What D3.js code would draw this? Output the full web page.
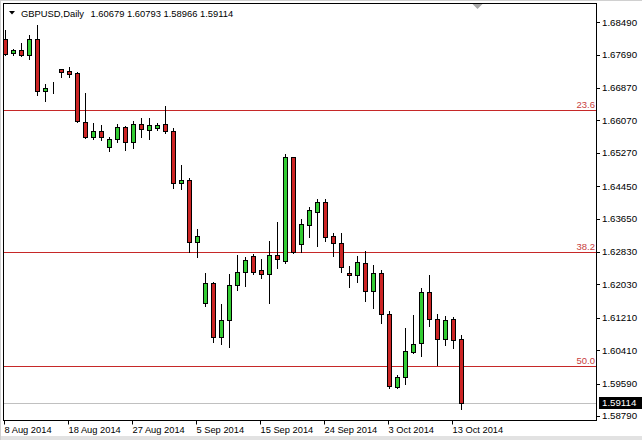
<!DOCTYPE html>
<html>
<head>
<meta charset="utf-8">
<script src="https://cdn.jsdelivr.net/npm/d3@7"></script>
<style>
  html, body { margin: 0; padding: 0; background: #ffffff; }
  svg { display: block; }
  text { font-family: "Liberation Sans", Arial, sans-serif; }
</style>
</head>
<body>
<svg id="chart" width="642" height="440"></svg>
<script>
// ---------------- data ----------------
const symbol = "GBPUSD,Daily";
const dates = [
  "2014-08-08","2014-08-10","2014-08-11","2014-08-12","2014-08-13","2014-08-14","2014-08-15",
  "2014-08-17","2014-08-18","2014-08-19","2014-08-20","2014-08-21","2014-08-22",
  "2014-08-24","2014-08-25","2014-08-26","2014-08-27","2014-08-28","2014-08-29",
  "2014-08-31","2014-09-01","2014-09-02","2014-09-03","2014-09-04","2014-09-05",
  "2014-09-07","2014-09-08","2014-09-09","2014-09-10","2014-09-11","2014-09-12",
  "2014-09-14","2014-09-15","2014-09-16","2014-09-17","2014-09-18","2014-09-19",
  "2014-09-21","2014-09-22","2014-09-23","2014-09-24","2014-09-25","2014-09-26",
  "2014-09-28","2014-09-29","2014-09-30","2014-10-01","2014-10-02","2014-10-03",
  "2014-10-05","2014-10-06","2014-10-07","2014-10-08","2014-10-09","2014-10-10",
  "2014-10-12","2014-10-13","2014-10-14"
];
const open = [
  1.68076,1.67731,1.67805,1.67681,1.68076,1.66795,1.66869,
  1.67337,1.67287,1.67238,1.66031,1.65662,1.65810,
  1.65415,1.65613,1.65908,1.65539,1.65982,1.65834,
  1.65883,1.65982,1.65810,1.64529,1.64603,1.63076,
  1.61573,1.62066,1.60736,1.61154,1.62017,1.62337,
  1.62731,1.62386,1.62287,1.62755,1.62608,1.65169,
  1.63026,1.63494,1.63815,1.64061,1.63223,1.63051,
  1.62312,1.62263,1.62558,1.61869,1.62312,1.61302,
  1.59504,1.59751,1.60366,1.60588,1.61844,1.61179,
  1.60687,1.61179,1.60679
];
const high = [
  1.68297,1.67829,1.67977,1.68174,1.68420,1.66967,1.67016,
  1.67345,1.67386,1.67263,1.66745,1.66007,1.65957,
  1.65662,1.65982,1.65933,1.66056,1.66130,1.66130,
  1.66007,1.66425,1.65883,1.64972,1.64652,1.63396,
  1.62312,1.62090,1.61549,1.62287,1.62755,1.62706,
  1.62780,1.62657,1.63100,1.63568,1.65243,1.65169,
  1.63642,1.63938,1.64135,1.64135,1.63297,1.63297,
  1.62485,1.62731,1.62854,1.62509,1.62386,1.61376,
  1.59800,1.60957,1.61278,1.61943,1.62263,1.61302,
  1.61253,1.61228,1.60793
];
const low = [
  1.67681,1.67681,1.67669,1.67583,1.66696,1.66548,1.66745,
  1.67140,1.67140,1.66044,1.65637,1.65613,1.65588,
  1.65317,1.65539,1.65342,1.65391,1.65662,1.65613,
  1.65834,1.65760,1.64406,1.64381,1.62829,1.62706,
  1.61499,1.60613,1.60563,1.60490,1.61893,1.61992,
  1.62287,1.62189,1.61573,1.62435,1.62558,1.62805,
  1.62829,1.63199,1.62977,1.63100,1.62731,1.62337,
  1.61967,1.62090,1.61622,1.61450,1.61081,1.59480,
  1.59480,1.59578,1.60342,1.60268,1.61007,1.60046,
  1.60539,1.60465,1.58966
];
const close = [
  1.67706,1.67805,1.67681,1.68076,1.66795,1.66869,1.66875,
  1.67263,1.67213,1.66056,1.65662,1.65810,1.65662,
  1.65613,1.65908,1.65539,1.65982,1.65859,1.65957,
  1.65957,1.65810,1.64529,1.64603,1.63076,1.63223,
  1.62066,1.60736,1.61154,1.62017,1.62337,1.62632,
  1.62337,1.62287,1.62755,1.62657,1.65169,1.62829,
  1.63519,1.63864,1.64061,1.63199,1.63051,1.62460,
  1.62263,1.62583,1.61869,1.62312,1.61302,1.59529,
  1.59751,1.60391,1.60563,1.61844,1.61179,1.60687,
  1.61154,1.60662,1.59114
];
const priceTicks = [1.68490,1.67690,1.66870,1.66070,1.65270,1.64450,1.63650,
                    1.62830,1.62030,1.61210,1.60410,1.59590,1.58790];
const dateTicks = ["2014-08-08","2014-08-18","2014-08-27","2014-09-05",
                   "2014-09-15","2014-09-24","2014-10-03","2014-10-13"];
const dateTickLabels = ["8 Aug 2014","18 Aug 2014","27 Aug 2014","5 Sep 2014",
                        "15 Sep 2014","24 Sep 2014","3 Oct 2014","13 Oct 2014"];
const fibLevels = [1.66327, 1.62822, 1.60022];
const fibLabels = ["23.6", "38.2", "50.0"];
const lastPrice = 1.59114;

// ---------------- chart ----------------
const svg = d3.select("#chart");
const W = 642, H = 440;
const plot = {left: 3.5, top: 3.5, right: 596.5, bottom: 420.5};

const x = d3.scalePoint().domain(dates).range([5.5, 461.5]);
const y = d3.scaleLinear().domain([1.58790, 1.68490]).range([416, 22.2]);
const py = v => Math.round(y(v)) + 0.5;

svg.append("rect").attr("width", W).attr("height", H).attr("fill", "#ffffff");
// window edges
svg.append("rect").attr("x", 0).attr("y", 436).attr("width", W).attr("height", 4).attr("fill", "#e2e2e2");
svg.append("rect").attr("x", 0).attr("y", 0).attr("width", 1).attr("height", H).attr("fill", "#d0d0d0");
svg.append("rect").attr("x", 0).attr("y", 0).attr("width", W).attr("height", 1).attr("fill", "#d0d0d0");

svg.append("clipPath").attr("id", "plotclip").append("rect")
  .attr("x", plot.left).attr("y", plot.top)
  .attr("width", plot.right - plot.left).attr("height", plot.bottom - plot.top);

const g = svg.append("g").attr("clip-path", "url(#plotclip)");

// current price line
g.append("line")
  .attr("x1", plot.left).attr("x2", plot.right)
  .attr("y1", py(lastPrice)).attr("y2", py(lastPrice))
  .attr("stroke", "#c0c0c0").attr("stroke-width", 1);

// fibonacci levels
g.selectAll("line.fib").data(fibLevels).join("line").attr("class", "fib")
  .attr("x1", plot.left).attr("x2", plot.right)
  .attr("y1", d => py(d)).attr("y2", d => py(d))
  .attr("stroke", "#c62828").attr("stroke-width", 1);
g.selectAll("text.fib").data(fibLevels).join("text").attr("class", "fib")
  .attr("x", 595).attr("y", d => py(d) - 2.5)
  .attr("text-anchor", "end")
  .attr("font-size", "9.5px")
  .attr("fill", "#c84040")
  .text((d, i) => fibLabels[i]);

// candles
const idx = d3.range(dates.length);
g.selectAll("line.wick").data(idx).join("line").attr("class", "wick")
  .attr("x1", i => x(dates[i])).attr("x2", i => x(dates[i]))
  .attr("y1", i => Math.round(y(high[i])))
  .attr("y2", i => Math.round(y(low[i])) + 1)
  .attr("stroke", "#000").attr("stroke-width", 1);
g.selectAll("rect.body").data(idx).join("rect").attr("class", "body")
  .attr("x", i => x(dates[i]) - 2)
  .attr("y", i => py(Math.max(open[i], close[i])))
  .attr("width", 4)
  .attr("height", i => py(Math.min(open[i], close[i])) - py(Math.max(open[i], close[i])))
  .attr("fill", i => close[i] >= open[i] ? "#33cc33" : "#cc2424")
  .attr("stroke", "#000").attr("stroke-width", 1);

// chart shift marker
const mx = x(dates[dates.length - 1]) + 2 * x.step();
svg.append("path")
  .attr("d", `M${mx - 5},${plot.top + 0.5} L${mx + 5},${plot.top + 0.5} L${mx},${plot.top + 5.5} Z`)
  .attr("fill", "#a8a8a8");

// frame
svg.append("rect")
  .attr("x", plot.left).attr("y", plot.top)
  .attr("width", plot.right - plot.left).attr("height", plot.bottom - plot.top)
  .attr("fill", "none").attr("stroke", "#000").attr("stroke-width", 1);

// right price axis
const pa = svg.append("g");
pa.selectAll("line").data(priceTicks).join("line")
  .attr("x1", plot.right).attr("x2", plot.right + 3.5)
  .attr("y1", d => py(d)).attr("y2", d => py(d))
  .attr("stroke", "#000");
pa.selectAll("text").data(priceTicks).join("text")
  .attr("x", 602).attr("y", d => y(d)).attr("dy", "0.35em")
  .attr("font-size", "9.7px").attr("fill", "#000")
  .text(d => d.toFixed(5));

// last price box
svg.append("rect")
  .attr("x", 599).attr("y", Math.round(y(lastPrice)) - 6)
  .attr("width", 43).attr("height", 12).attr("fill", "#000");
svg.append("text")
  .attr("x", 602).attr("y", y(lastPrice)).attr("dy", "0.35em")
  .attr("font-size", "9.7px").attr("fill", "#fff")
  .text(lastPrice.toFixed(5));

// bottom date axis
const da = svg.append("g");
da.selectAll("line").data(dateTicks).join("line")
  .attr("x1", d => x(d) - 1).attr("x2", d => x(d) - 1)
  .attr("y1", plot.bottom).attr("y2", plot.bottom + 4)
  .attr("stroke", "#000");
da.selectAll("text").data(dateTicks).join("text")
  .attr("x", d => x(d) - 1).attr("y", 433)
  .attr("font-size", "9.3px").attr("fill", "#000")
  .text((d, i) => dateTickLabels[i]);

// header
svg.append("path").attr("d", "M9,11 L15,11 L12,14.5 Z").attr("fill", "#000");
svg.append("text").attr("x", 21).attr("y", 16.5)
  .attr("font-size", "9.4px").attr("fill", "#000")
  .text(symbol);
svg.append("text").attr("x", 90.5).attr("y", 16.5)
  .attr("font-size", "9.4px").attr("fill", "#000")
  .text([open[open.length - 1], high[high.length - 1], low[low.length - 1], close[close.length - 1]]
        .map(v => v.toFixed(5)).join(" "));
</script>
</body>
</html>
